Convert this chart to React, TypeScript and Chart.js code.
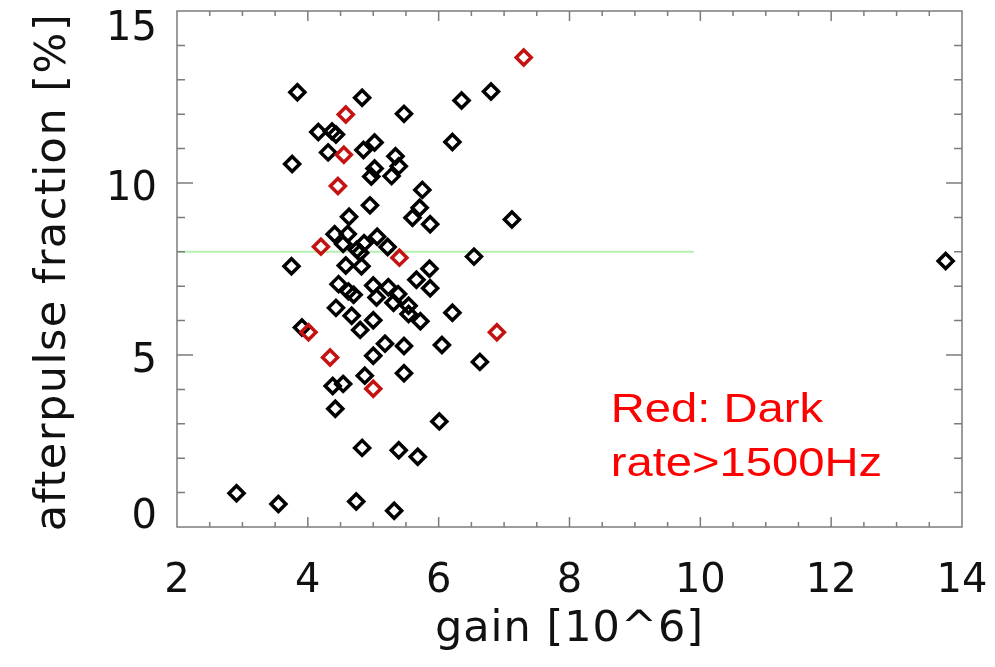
import React, { useEffect, useRef } from 'react';
import { Chart, registerables } from 'chart.js';

Chart.register(...registerables);

// ---- data (gain [10^6], afterpulse fraction [%]) ----
const blackGain = [
  3.84, 4.83, 5.47, 6.35, 6.8, 4.16, 4.37, 4.43, 4.31, 4.85, 5.02, 6.21, 3.76, 5.34, 5.39, 5.28,
  5.02, 4.97, 5.75, 4.95, 5.71, 5.6, 5.87, 4.63, 7.12, 4.41, 4.61, 4.54, 5.06, 4.86, 4.75, 4.8,
  5.22, 6.54, 3.75, 4.58, 4.82, 5.86, 5.66, 5.87, 4.47, 4.62, 4.7, 5.0, 5.23, 5.38, 5.05, 5.31,
  5.54, 4.43, 4.67, 5.0, 4.8, 5.54, 5.72, 6.21, 3.91, 5.18, 5.47, 6.05, 5.0, 6.63, 4.87, 5.47,
  4.38, 4.54, 4.42, 6.01, 4.83, 5.39, 5.68, 2.91, 3.55, 4.74, 5.32, 13.75,
];
const blackFraction = [
  12.64, 12.48, 12.01, 12.4, 12.66, 11.48, 11.5, 11.41, 10.89, 10.96, 11.18, 11.19, 10.55, 10.78, 10.49, 10.2,
  10.42, 10.19, 9.8, 9.35, 9.28, 8.99, 8.8, 9.02, 8.94, 8.51, 8.52, 8.23, 8.44, 8.25, 8.06, 7.97,
  8.14, 7.86, 7.58, 7.6, 7.58, 7.51, 7.19, 6.94, 7.06, 6.85, 6.75, 7.02, 6.97, 6.77, 6.67, 6.52,
  6.43, 6.37, 6.14, 6.01, 5.73, 6.19, 5.98, 6.23, 5.8, 5.33, 5.26, 5.29, 4.98, 4.8, 4.4, 4.47,
  4.1, 4.16, 3.44, 3.07, 2.3, 2.23, 2.04, 0.98, 0.67, 0.74, 0.47, 7.73,
];
const redGain = [4.58, 7.3, 4.55, 4.46, 4.2, 5.4, 4.01, 6.89, 4.34, 5.0];
const redFraction = [11.99, 13.65, 10.82, 9.91, 8.15, 7.83, 5.66, 5.66, 4.93, 4.02];

const thresholdGain = [2, 9.9];
const thresholdFraction = [8, 8];

const xTickLabels = [2, 4, 6, 8, 10, 12, 14];
const yTickLabels = [0, 5, 10, 15];
const xMinorStep = 0.5;
const yMinorStep = 1;

const xTitle = 'gain [10^6]';
const yTitle = 'afterpulse fraction [%]';
const noteLines = ['Red: Dark', 'rate>1500Hz'];
const noteAnchor = { gain: 8.63, fraction: 3.04 };

const FRAME = '#7c7c7c';
const AXIS_FONT = '"DejaVu Sans", sans-serif';

const decorPlugin = {
  id: 'decor',
  afterDatasetsDraw(chart: any) {
    const { ctx, chartArea: a, scales } = chart;
    const x = scales.x;
    const y = scales.y;
    ctx.save();
    ctx.strokeStyle = FRAME;
    ctx.lineWidth = 1.5;
    ctx.strokeRect(a.left, a.top, a.right - a.left, a.bottom - a.top);
    ctx.beginPath();
    const xMin = x.min, xMax = x.max;
    for (let v = xMin + xMinorStep; v < xMax - 1e-9; v += xMinorStep) {
      const px = x.getPixelForValue(v);
      const major = xTickLabels.some((t) => Math.abs(t - v) < 1e-6);
      const len = major ? 10 : 5;
      ctx.moveTo(px, a.bottom);
      ctx.lineTo(px, a.bottom - len);
      ctx.moveTo(px, a.top);
      ctx.lineTo(px, a.top + len);
    }
    const yMin = y.min, yMax = y.max;
    for (let v = yMin + yMinorStep; v < yMax - 1e-9; v += yMinorStep) {
      const py = y.getPixelForValue(v);
      const major = yTickLabels.some((t) => Math.abs(t - v) < 1e-6);
      const len = major ? 16 : 8;
      ctx.moveTo(a.left, py);
      ctx.lineTo(a.left + len, py);
      ctx.moveTo(a.right, py);
      ctx.lineTo(a.right - len, py);
    }
    ctx.stroke();
    ctx.restore();
  },
  afterDraw(chart: any) {
    const { ctx, chartArea: a, scales } = chart;
    const x = scales.x;
    const y = scales.y;
    ctx.save();
    ctx.fillStyle = '#111';
    ctx.font = `40px ${AXIS_FONT}`;
    ctx.textBaseline = 'alphabetic';
    ctx.textAlign = 'center';
    xTickLabels.forEach((t) => {
      ctx.fillText(String(t), x.getPixelForValue(t), a.bottom + 65);
    });
    ctx.textAlign = 'right';
    yTickLabels.forEach((t, i) => {
      const py = y.getPixelForValue(t);
      let off = 16.5;
      if (i === 0) off = 1;
      else if (i === yTickLabels.length - 1) off = 29;
      ctx.fillText(String(t), a.left - 20, py + off);
    });
    // titles
    ctx.font = `43px ${AXIS_FONT}`;
    ctx.textAlign = 'center';
    (ctx as any).letterSpacing = '1px';
    ctx.fillText(xTitle, (a.left + a.right) / 2, a.bottom + 114);
    (ctx as any).letterSpacing = '1.5px';
    ctx.save();
    ctx.translate(65, (a.top + a.bottom) / 2 + 3);
    ctx.rotate(-Math.PI / 2);
    ctx.fillText(yTitle, 0, 0);
    ctx.restore();
    (ctx as any).letterSpacing = '0px';
    // red note
    ctx.fillStyle = '#ff0000';
    ctx.font = '41px "Liberation Sans", Arial, sans-serif';
    ctx.textAlign = 'left';
    const nx = x.getPixelForValue(noteAnchor.gain);
    const ny = y.getPixelForValue(noteAnchor.fraction);
    noteLines.forEach((line, i) => {
      ctx.save();
      ctx.translate(nx, ny + i * 54);
      ctx.scale(1.15, 1);
      ctx.fillText(line, 0, 0);
      ctx.restore();
    });
    ctx.restore();
  },
};

export default function App() {
  const ref = useRef<HTMLCanvasElement>(null);
  useEffect(() => {
    document.body.style.margin = '0';
    const canvas = ref.current!;
    const toPts = (xs: number[], ys: number[]) => xs.map((v, i) => ({ x: v, y: ys[i] }));
    const chart = new Chart(canvas, {
      type: 'scatter',
      data: {
        datasets: [
          {
            label: 'dark rate > 1500Hz',
            data: toPts(redGain, redFraction),
            pointStyle: 'rectRot',
            pointRadius: 7.5,
            pointBorderWidth: 3.5,
            borderColor: '#c41212',
            backgroundColor: 'rgba(0,0,0,0)',
            order: 0,
          },
          {
            label: 'PMTs',
            data: toPts(blackGain, blackFraction),
            pointStyle: 'rectRot',
            pointRadius: 7.5,
            pointBorderWidth: 3.5,
            borderColor: '#000',
            backgroundColor: 'rgba(0,0,0,0)',
            order: 1,
          },
          {
            type: 'line',
            label: 'threshold',
            data: toPts(thresholdGain, thresholdFraction),
            borderColor: '#b6f0b0',
            borderWidth: 2,
            pointRadius: 0,
            showLine: true,
            fill: false,
            order: 2,
          } as any,
        ],
      },
      options: {
        responsive: false,
        animation: false,
        devicePixelRatio: 1,
        layout: { padding: { left: 0, top: 9, right: 33, bottom: 0 } },
        plugins: { legend: { display: false }, tooltip: { enabled: false } },
        scales: {
          x: {
            type: 'linear',
            min: 2,
            max: 14,
            ticks: { display: false },
            grid: { display: false },
            border: { display: false },
            afterFit: (s: any) => {
              s.height = 140;
            },
          },
          y: {
            type: 'linear',
            min: 0,
            max: 15,
            ticks: { display: false },
            grid: { display: false },
            border: { display: false },
            afterFit: (s: any) => {
              s.width = 177;
            },
          },
        },
      },
      plugins: [decorPlugin],
    });
    return () => chart.destroy();
  }, []);
  return (
    <div style={{ width: 995, height: 667 }}>
      <canvas ref={ref} width={995} height={667} style={{ display: 'block' }} />
    </div>
  );
}
